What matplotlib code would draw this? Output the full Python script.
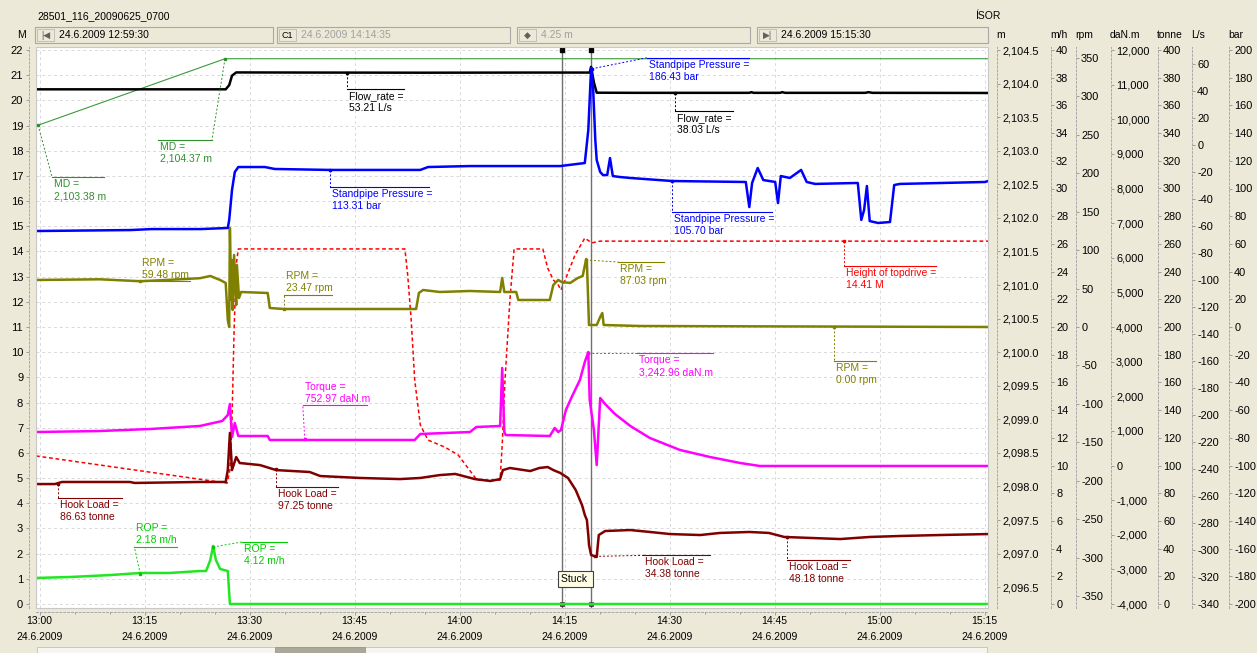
#!/usr/bin/env python3
"""Drilling log screen around a stuck pipe event, 24.6.2009 13:00-15:15."""

import matplotlib

matplotlib.use("Agg")
import matplotlib.pyplot as plt
import numpy as np
from matplotlib.patches import Rectangle

W, H = 1257, 653
BG = "#ece9d8"
plt.rcParams["font.family"] = ["Liberation Sans", "DejaVu Sans"]
plt.rcParams["font.size"] = 7.5

# ---- data: time is minutes after 13:00 ----
flow_t = [-0.5, 26.6, 27.1, 27.5, 28.1, 40.0, 55.0, 70.0, 78.6, 78.8, 79.2, 79.6, 85.0,
          101.4, 101.7, 102.0, 105.8, 106.1, 106.5, 118.0, 118.4, 119.0, 135.5]
flow_v = [40.9, 40.9, 44.0, 51.0, 53.4, 53.3, 53.2, 53.3, 53.3, 57.5, 46.0, 38.4, 38.3,
          38.3, 38.8, 38.3, 38.3, 38.8, 38.3, 38.3, 38.8, 38.3, 38.2]

md_t = [-0.2, 26.5, 135.5]
md_v = [2103.38, 2104.37, 2104.37]

spp_t = [-0.5, 13.0, 16.0, 23.0, 26.9, 27.1, 27.5, 27.9, 28.4, 32.2, 33.6, 41.5, 54.4, 55.5,
         61.5, 74.4, 77.9, 78.4, 78.8, 79.1, 79.4, 79.6, 80.1, 80.5, 81.1, 81.5, 81.9, 82.9,
         84.4, 90.4, 100.9, 101.4, 101.8, 102.6, 103.4, 105.1, 105.5, 105.9, 107.2, 108.8,
         109.6, 110.8, 116.9, 117.4, 117.8, 118.2, 118.6, 119.8, 121.5, 122.1, 122.9, 135.1,
         135.5]
spp_v = [69.3, 70.0, 70.7, 70.7, 71.5, 77.3, 98.9, 111.9, 115.5, 115.5, 114.1, 113.4, 113.4,
         115.5, 116.2, 116.2, 118.4, 142.2, 187.0, 171.1, 135.0, 120.6, 111.9, 109.7, 109.7,
         122.0, 109.0, 108.3, 107.6, 105.4, 104.7, 86.6, 104.0, 114.8, 106.1, 104.7, 89.5,
         109.0, 107.6, 113.4, 104.7, 103.3, 104.0, 77.3, 84.5, 101.8, 76.5, 75.1, 75.8, 102.5,
         103.3, 104.7, 105.4]

rpm_t = [-0.5, 8.6, 14.4, 20.1, 22.9, 24.4, 25.8, 26.6, 26.9, 27.1, 27.2, 27.4, 27.5, 27.6,
         27.8, 28.1, 28.2, 28.5, 28.8, 32.6, 32.9, 34.9, 53.8, 54.2, 54.8, 57.2, 61.5, 65.8,
         66.1, 66.4, 68.1, 68.4, 72.9, 73.4, 74.1, 74.6, 75.8, 76.9, 77.6, 78.1, 78.2, 78.5,
         79.6, 80.1, 80.4, 80.6, 85.8, 135.5]
rpm_v = [61.1, 62.0, 59.5, 62.0, 63.4, 66.3, 61.1, 57.2, 9.1, 0.0, 128.7, 35.1, 87.1, 22.1,
         93.6, 28.6, 80.6, 37.7, 45.5, 44.2, 24.7, 23.4, 23.4, 44.2, 48.1, 45.5, 46.8, 45.5,
         63.7, 45.5, 45.5, 35.1, 35.1, 54.6, 61.1, 58.5, 57.2, 63.7, 66.3, 88.4, 84.5, 2.6,
         2.6, 13.0, 18.2, 2.6, 1.3, 0.0]

hot_t = [-0.5, 26.8, 27.2, 27.5, 27.8, 28.1, 28.4, 52.2, 52.6, 53.1, 53.6, 54.4, 55.5, 57.9,
         59.8, 61.1, 62.5, 65.8, 66.1, 66.5, 67.2, 67.8, 71.9, 72.6, 73.4, 74.1, 74.5, 75.1,
         76.5, 77.9, 78.9, 80.1, 135.5]
hot_v = [5.88, 4.80, 5.32, 7.31, 10.88, 13.46, 14.10, 14.10, 13.06, 11.28, 8.90, 7.11, 6.51,
         6.23, 5.92, 5.44, 4.92, 4.92, 6.31, 8.90, 12.07, 14.10, 14.10, 13.34, 12.87, 12.67,
         12.47, 12.87, 13.86, 14.53, 14.34, 14.41, 14.41]

tq_t = [-0.5, 8.6, 15.8, 22.9, 26.1, 26.9, 27.2, 27.5, 27.9, 28.4, 32.6, 32.9, 53.6, 54.4,
        61.5, 62.4, 65.8, 66.1, 66.4, 66.6, 72.9, 73.6, 74.1, 74.5, 75.2, 76.1, 77.2, 77.9,
        78.4, 78.6, 79.2, 79.6, 80.1, 80.8, 82.2, 84.4, 87.2, 91.5, 95.8, 100.1, 102.9, 135.5]
tq_v = [967, 996, 1054, 1141, 1285, 1458, 1776, 823, 1227, 852, 852, 737, 737, 910, 967, 1112,
        1141, 2816, 967, 880, 852, 1083, 967, 1025, 1603, 2007, 2469, 2989, 3278, 1892, 1025,
        14, 1949, 1776, 1488, 1141, 794, 448, 245, 72, -14, -14]

hl_t = [-0.5, 2.2, 3.2, 12.9, 13.6, 22.9, 26.6, 26.9, 27.2, 27.5, 28.1, 28.6, 31.5, 33.8,
        38.6, 40.1, 45.8, 51.5, 54.4, 57.2, 59.4, 62.2, 64.4, 65.8, 66.2, 67.2, 70.1, 71.4,
        72.6, 73.4, 74.4, 75.5, 76.6, 77.5, 77.9, 78.2, 78.4, 78.5, 78.8, 79.6, 79.9, 80.8,
        84.4, 87.2, 90.1, 94.4, 97.2, 101.4, 104.2, 106.4, 110.1, 114.4, 118.6, 122.9, 128.6,
        135.5]
hl_v = [86.6, 86.6, 88.1, 88.1, 87.4, 88.1, 88.1, 96.7, 123.5, 96.7, 106.1, 101.8, 100.3,
        96.7, 95.3, 92.4, 91.0, 90.2, 91.0, 93.1, 93.9, 90.2, 88.8, 90.2, 96.7, 98.2, 96.0,
        98.2, 98.9, 96.7, 94.6, 91.0, 82.3, 71.5, 64.3, 60.6, 49.8, 42.6, 35.4, 34.0, 49.8,
        52.7, 53.4, 52.0, 50.5, 49.8, 51.3, 52.0, 51.3, 48.4, 47.7, 46.9, 48.4, 49.1, 49.8,
        50.5]

rop_t = [-0.5, 4.4, 10.1, 14.4, 18.6, 22.9, 23.8, 24.4, 24.8, 25.2, 25.8, 26.9, 27.2, 135.5]
rop_v = [1.88, 1.95, 2.09, 2.24, 2.24, 2.38, 2.38, 3.18, 4.19, 3.18, 2.53, 2.38, 0.0, 0.0]

# right-hand scales
unit_names = ["m", "m/h", "rpm", "daN.m", "tonne", "L/s", "bar"]
unit_lo = [2096.25, 0, -360, -4000, 0, -340, -200]
unit_hi = [2104.5, 40, 360, 12000, 400, 70, 200]
unit_ticks = [np.arange(2096.5, 2104.51, 0.5), np.arange(0, 41, 2), np.arange(-350, 351, 50),
              np.arange(-4000, 12001, 1000), np.arange(0, 401, 20), np.arange(-340, 61, 20),
              np.arange(-200, 201, 20)]
unit_fmt = ["{:,.1f}", "{:g}", "{:g}", "{:,.0f}", "{:g}", "{:g}", "{:g}"]
spine_px = [997, 1051, 1076, 1111, 1158, 1192, 1229]

time_ticks = [0, 15, 30, 45, 60, 75, 90, 105, 120, 135]
time_labels = ["13:00", "13:15", "13:30", "13:45", "14:00", "14:15", "14:30", "14:45",
               "15:00", "15:15"]
date_label = "24.6.2009"

cursor_t = [74.583, 78.833]  # C1 14:14:35 and +4.25 min

# name -> time, value, unit, axis, colour, width, style
series = {
    "MD": (md_t, md_v, "m", "m", "#3a9a3a", 0.8, "-"),
    "Flow_rate": (flow_t, flow_v, "L/s", "L/s", "#000000", 1.8, "-"),
    "Standpipe Pressure": (spp_t, spp_v, "bar", "bar", "#0000ff", 1.8, "-"),
    "RPM": (rpm_t, rpm_v, "rpm", "rpm", "#808000", 1.8, "-"),
    "Height of topdrive": (hot_t, hot_v, "M", "M", "#ff0000", 1.1, (0, (2.5, 1.8))),
    "Torque": (tq_t, tq_v, "daN.m", "daN.m", "#ff00ff", 1.8, "-"),
    "Hook Load": (hl_t, hl_v, "tonne", "tonne", "#800000", 1.8, "-"),
    "ROP": (rop_t, rop_v, "m/h", "m/h", "#22e622", 1.8, "-"),
}
text_colors = {"ROP": "#00cc00", "MD": "#2f8f2f"}

ann_series = ["MD", "MD", "Flow_rate", "Standpipe Pressure", "RPM", "RPM", "Torque",
              "Hook Load", "Hook Load", "ROP", "ROP", "Standpipe Pressure", "Flow_rate",
              "Standpipe Pressure", "RPM", "Height of topdrive", "RPM", "Torque", "Hook Load",
              "Hook Load"]
ann_time = [-0.2, 26.5, 43.9, 41.5, 14.4, 34.9, 37.9, 2.6, 33.8, 14.4, 24.8, 78.9, 90.8,
            90.4, 78.1, 114.9, 113.5, 78.4, 79.4, 106.8]
ann_value = [2103.38, 2104.37, 53.21, 113.31, 59.48, 23.47, 752.97, 86.63, 97.25, 2.18, 4.12,
             186.43, 38.03, 105.70, 87.03, 14.41, 0.00, 3242.96, 34.38, 48.18]
# leader layout in pixels: dx, dy (down), underline width, text side
ann_layout = [(14, 52, 52, "b"), (-13, 81, -54, "b"), (0, 16, 57, "b"), (0, 17, 99, "b"),
              (0, 0, 50, "a"), (0, -14, 48, "a"), (-2, -34, 64, "a"), (0, 14, 64, "b"),
              (0, 18, 62, "b"), (-6, -27, 43, "a"), (29, -5, 45, "b"), (55, -11, 102, "b"),
              (0, 18, 58, "b"), (0, 31, 100, "b"), (32, 2, 46, "b"), (0, 25, 92, "b"),
              (0, 34, 42, "b"), (49, 0, 76, "b"), (48, -1, 67, "b"), (0, 23, 63, "b")]

# ---- figure ----
fig = plt.figure(figsize=(W / 100, H / 100), dpi=100, facecolor=BG)
TOP, BOT, LEFT, RIGHT = 47, 608, 36, 988
ax = fig.add_axes([LEFT / W, (H - BOT) / H, (RIGHT - LEFT) / W, (BOT - TOP) / H])
ax.set_facecolor("white")


def set_range(a, lo, hi):
    # lo sits at y=604 px, hi at y=50 px
    span = hi - lo
    a.set_ylim(lo - span * 4 / 554, hi + span * 3 / 554)


ax.set_xlim(-0.5, 135.5)
set_range(ax, 0, 22)
ax.set_yticks(range(23))
ax.set_yticklabels([str(i) for i in range(23)])
ax.set_xticks(time_ticks)
ax.set_xticklabels([])
ax.set_xticks(np.arange(0, 136, 5), minor=True)
ax.grid(True, color="#d9d9d9", ls=(0, (3, 3)), lw=0.7)
ax.set_axisbelow(True)
for s in ("top", "right"):
    ax.spines[s].set_visible(False)
ax.spines["left"].set_position(("outward", 7 * 0.72))
ax.spines["bottom"].set_position(("outward", 4 * 0.72))
for s in ("left", "bottom"):
    ax.spines[s].set_color("#a8a8a8")
    ax.spines[s].set_linestyle((0, (2, 2)))
    ax.spines[s].set_linewidth(0.7)
ax.tick_params(axis="both", which="both", color="#909090", length=2.2, width=0.6,
               labelsize=7.5, pad=2)
ax.tick_params(axis="y", labelsize=8)
ax.tick_params(axis="x", which="minor", length=1.6)

axes = {"M": ax}
for name, lo, hi, ticks, fmt, sx in zip(unit_names, unit_lo, unit_hi, unit_ticks, unit_fmt,
                                        spine_px):
    tw = ax.twinx()
    set_range(tw, lo, hi)
    tw.set_yticks(ticks)
    tw.set_yticklabels([fmt.format(v) for v in ticks])
    for s in ("top", "bottom", "left"):
        tw.spines[s].set_visible(False)
    sp = tw.spines["right"]
    sp.set_position(("axes", (sx - LEFT) / (RIGHT - LEFT)))
    sp.set_color("#a8a8a8")
    sp.set_linestyle((0, (2, 2)))
    sp.set_linewidth(0.7)
    tw.tick_params(axis="y", color="#909090", length=2.2, width=0.6, labelsize=7.9, pad=1.5)
    axes[name] = tw

draw_order = ["MD", "Height of topdrive", "ROP", "Hook Load", "Torque", "RPM",
              "Standpipe Pressure", "Flow_rate"]
for z, key in enumerate(draw_order):
    t, v, unit, axname, color, lw, ls = series[key]
    axes[axname].plot(t, v, color=color, lw=lw, ls=ls, zorder=3 + z, solid_joinstyle="round")

# cursors
for ct in cursor_t:
    ax.axvline(ct, color="#707070", lw=1.0, zorder=20)
    ax.plot([ct], [22], marker="s", ms=3.2, color="black", clip_on=False, zorder=21)
    ax.plot([ct], [0], marker="s", ms=3.2, color="#ff00ff", mec="black", mew=0.4,
            clip_on=False, zorder=21)
ax.text(cursor_t[0] - 0.05, 0.99, "Stuck ", ha="left", va="center", fontsize=7.5, zorder=22,
        bbox=dict(boxstyle="square,pad=0.32", fc="#fffde6", ec="#404040", lw=0.8))

# ---- overlay in pixel coordinates ----
ov = fig.add_axes([0, 0, 1, 1])
ov.set_xlim(0, W)
ov.set_ylim(H, 0)
ov.axis("off")


def to_px(a, t, v):
    x, y = a.transData.transform((t, v))
    return x, H - y


def box(x0, y0, x1, y1, fc, ec, lw=0.8):
    ov.add_patch(Rectangle((x0, y0), x1 - x0, y1 - y0, fc=fc, ec=ec, lw=lw))


box(LEFT, TOP, RIGHT, BOT, "none", "#c8c8c8", 0.8)

# time axis labels, two rows
for t, lab in zip(time_ticks, time_labels):
    x, _ = to_px(ax, t, 0)
    ov.text(x, 621, lab, ha="center", va="center", fontsize=7.5)
    ov.text(x, 637, date_label, ha="center", va="center", fontsize=7.5)

for key, t, v, (dx, dy, w, side) in zip(ann_series, ann_time, ann_value, ann_layout):
    _, _, unit, axname, color, _, _ = series[key]
    tc = text_colors.get(key, color)
    px, py = to_px(axes[axname], t, v)
    ex, ey = px + dx, py + dy
    ov.plot([px, ex], [py, ey], ls=(0, (2, 2)), lw=0.7, color=tc, zorder=30)
    ov.plot([ex, ex + w], [ey, ey], lw=0.8, color=tc, zorder=30)
    ov.plot([px], [py], marker="s", ms=2, color=tc, zorder=30)
    left = min(ex, ex + w) + 2
    label = f"{key} =\n{v:,.2f} {unit}"
    if side == "b":
        ov.text(left, ey + 2, label, ha="left", va="top", color=tc, fontsize=7.5,
                linespacing=1.25, zorder=30)
    else:
        ov.text(left, ey - 1.5, label, ha="left", va="bottom", color=tc, fontsize=7.5,
                linespacing=1.25, zorder=30)

# header
ov.text(37, 16, "28501_116_20090625_0700", ha="left", va="center", fontsize=7.5)
ov.text(975, 16, "ÍSOR", ha="left", va="center", fontsize=7.5)
ov.text(22, 35, "M", ha="center", va="center", fontsize=7.5)
header_boxes = [(35, 273, "|◀", "24.6.2009 12:59:30", "black"),
                (277, 510, "C1", "24.6.2009 14:14:35", "#a0a0a0"),
                (517, 750, "◆", "4.25 m", "#a0a0a0"),
                (757, 988, "▶|", "24.6.2009 15:15:30", "black")]
for x0, x1, btn, txt, col in header_boxes:
    box(x0, 27, x1, 43, BG, "#a8a8a8", 0.8)
    box(x0 + 2, 29, x0 + 19, 41, BG, "#b8b8b8", 0.6)
    ov.text(x0 + 10.5, 35, btn, ha="center", va="center", fontsize=6.5,
            color="#606060" if btn != "C1" else "black")
    ov.text(x0 + 24, 35, txt, ha="left", va="center", fontsize=7.5, color=col)
for name, sx in zip(unit_names, spine_px):
    ov.text(sx - 1, 35, name, ha="left", va="center", fontsize=7.5)

# scroll bar
box(37, 647, 987, 656, "#f6f5f0", "#c0c0c0", 0.6)
box(275, 647, 365, 656, "#aca899", "#9c9888", 0.6)

fig.savefig("out.png", dpi=100, facecolor=BG)
